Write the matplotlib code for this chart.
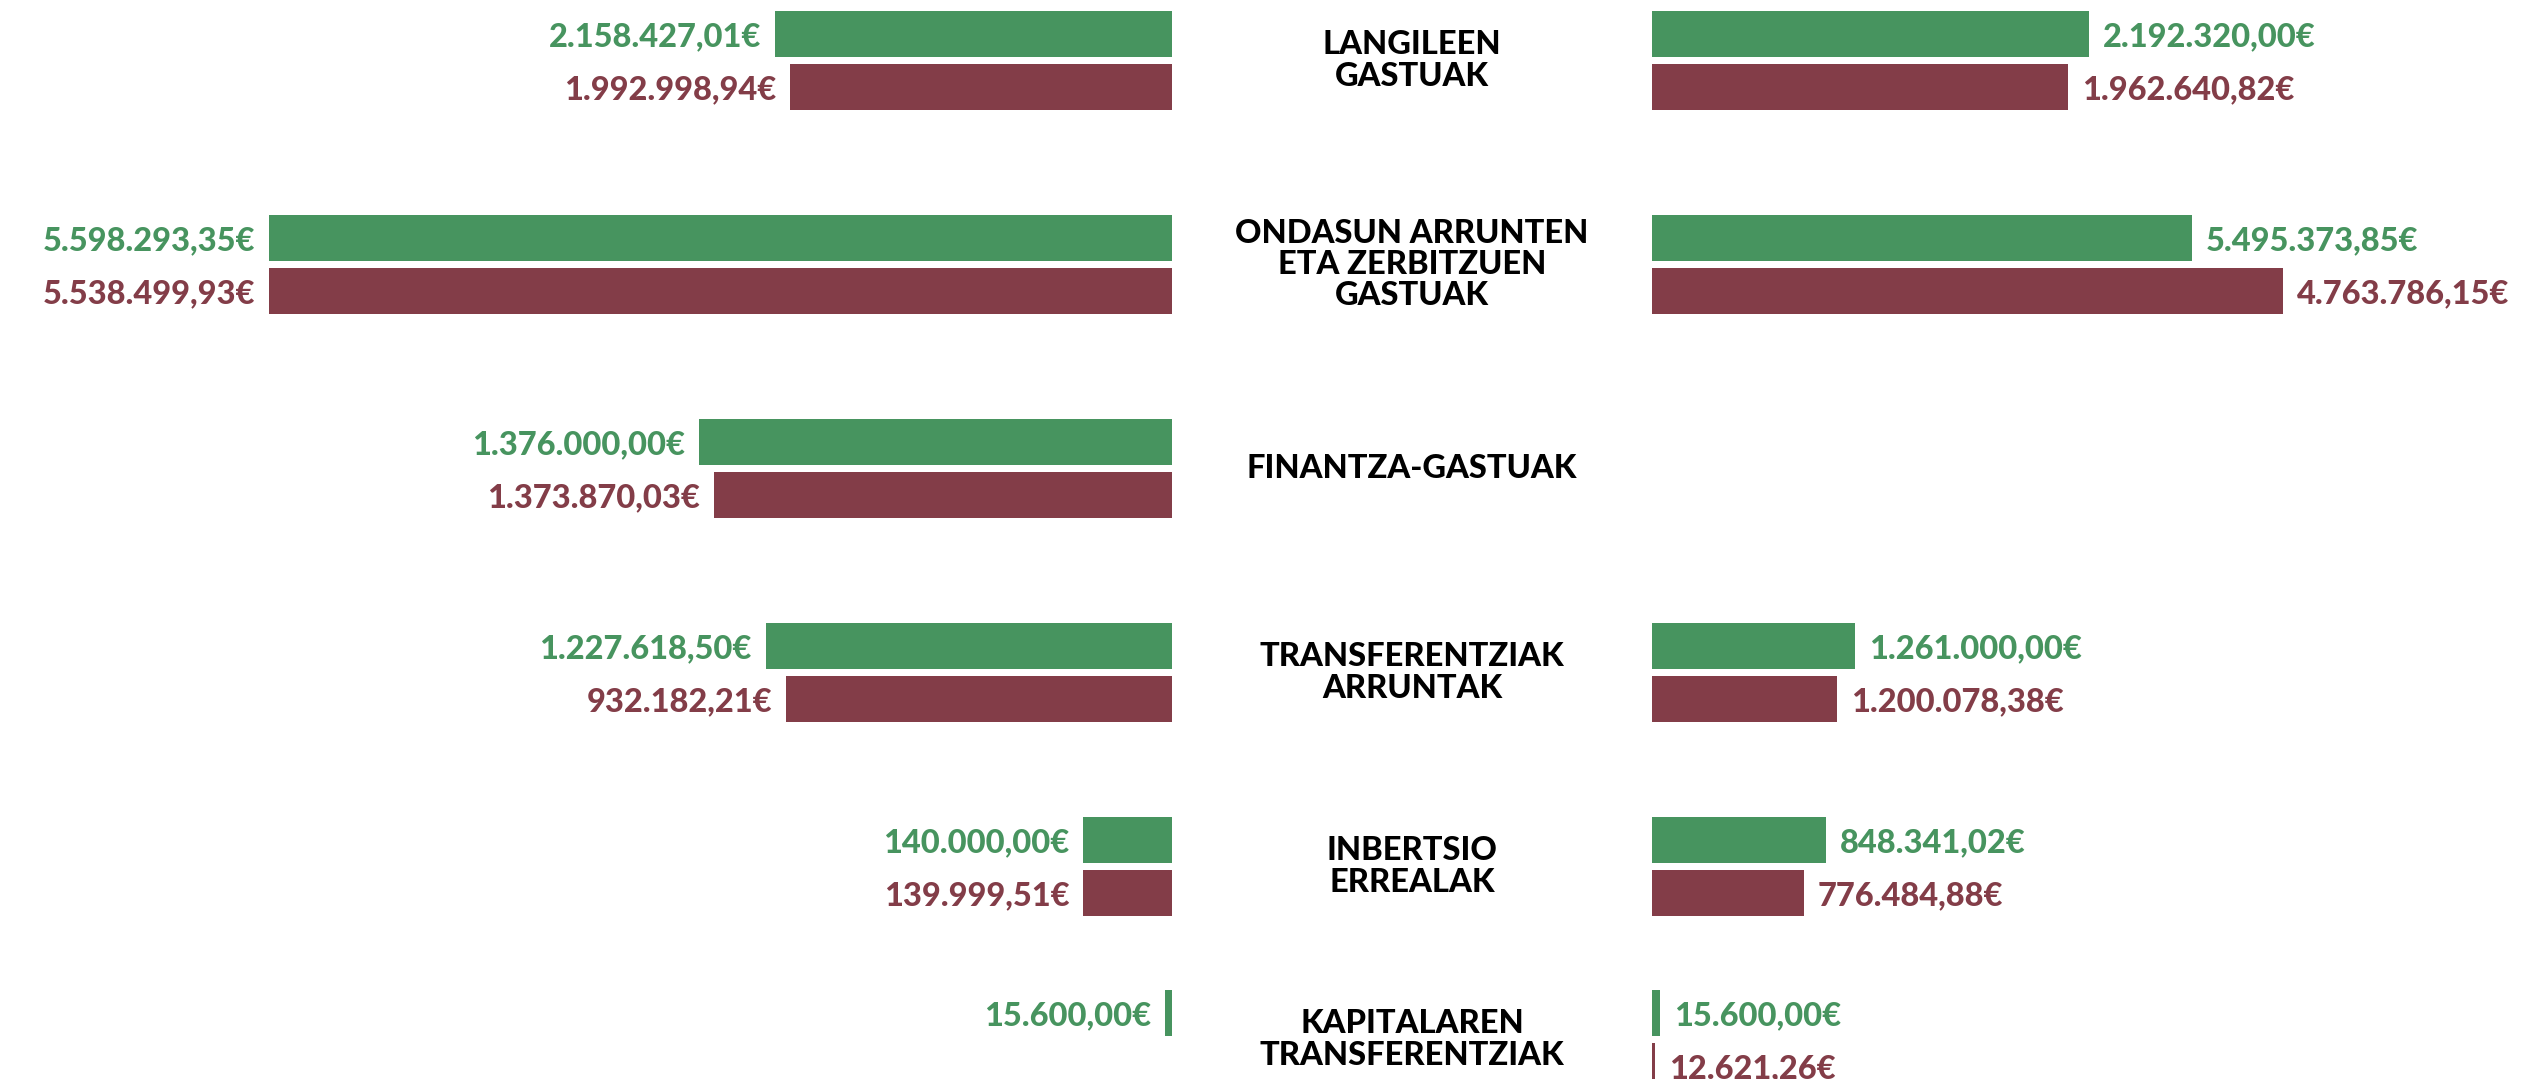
import numpy as np
import matplotlib
matplotlib.use("Agg")
import matplotlib.pyplot as plt

plt.rcParams['font.family'] = ['Lato', 'DejaVu Sans']

# kategoriak (erdiko testua)
categories = ["LANGILEEN\nGASTUAK",
              "ONDASUN ARRUNTEN\nETA ZERBITZUEN\nGASTUAK",
              "FINANTZA-GASTUAK",
              "TRANSFERENTZIAK\nARRUNTAK",
              "INBERTSIO\nERREALAK",
              "KAPITALAREN\nTRANSFERENTZIAK"]

# zenbatekoak (etiketetan idatzita) - None = ez dago barrarik
left_green = [2158427.01, 5598293.35, 1376000.00, 1227618.50, 140000.00, 15600.00]
left_red = [1992998.94, 5538499.93, 1373870.03, 932182.21, 139999.51, None]
right_green = [2192320.00, 5495373.85, None, 1261000.00, 848341.02, 15600.00]
right_red = [1962640.82, 4763786.15, None, 1200078.38, 776484.88, 12621.26]

# barren luzerak jatorrizko irudian neurtuta (milioi €, irudia ez dago eskalan)
left_green_len = [2.46, 5.60, 2.93, 2.52, 0.55, 0.043]
left_red_len = [2.37, 5.60, 2.84, 2.39, 0.55, np.nan]
right_green_len = [2.71, 3.35, np.nan, 1.26, 1.08, 0.05]
right_red_len = [2.58, 3.91, np.nan, 1.15, 0.94, 0.019]

GREEN = "#47945f"
RED = "#833d48"

W, H = 2534, 1079
row_top = np.array([11, 215, 419, 623, 817, 990])  # pixels from top
bar_h = 46
step = 53
px_per_m = 161.3


def fmt(v):
    s = f"{v:,.2f}"
    return s.replace(",", "X").replace(".", ",").replace("X", ".") + "€"


fig = plt.figure(figsize=(W / 100, H / 100), dpi=100)
left_edge, right_edge = 1172, 1652
axL = fig.add_axes([0, 0, left_edge / W, 1])
axR = fig.add_axes([right_edge / W, 0, (W - right_edge) / W, 1])
axM = fig.add_axes([left_edge / W, 0, (right_edge - left_edge) / W, 1])

axL.set_xlim(left_edge / px_per_m, 0)
axR.set_xlim(0, (W - right_edge) / px_per_m)
axM.set_xlim(0, 1)
for ax in (axL, axR, axM):
    ax.set_ylim(H, 0)
    ax.axis("off")

yg = row_top + bar_h / 2
yr = row_top + step + bar_h / 2

for ax, lens, vals, ys, col, side in [
        (axL, left_green_len, left_green, yg, GREEN, -1),
        (axL, left_red_len, left_red, yr, RED, -1),
        (axR, right_green_len, right_green, yg, GREEN, 1),
        (axR, right_red_len, right_red, yr, RED, 1)]:
    lens = np.array(lens, dtype=float)
    ok = ~np.isnan(lens)
    ax.barh(ys[ok], lens[ok], height=bar_h, color=col, align="center")
    for y, l, v in zip(ys, lens, vals):
        if v is None:
            continue
        ax.annotate(fmt(v), xy=(l, y), xytext=(10 * side, 0), color=col,
                    ha="left" if side > 0 else "right", va="center_baseline",
                    textcoords="offset points", annotation_clip=False,
                    fontsize=23.5, fontweight="black")

for i, cat in enumerate(categories):
    yc = (row_top[i] + row_top[i] + step + bar_h) / 2
    axM.text(0.5, yc, cat, ha="center", va="center", fontsize=23.5,
             fontweight="black", color="black", linespacing=1.1,
             multialignment="center")

fig.savefig("out.png", dpi=100)
